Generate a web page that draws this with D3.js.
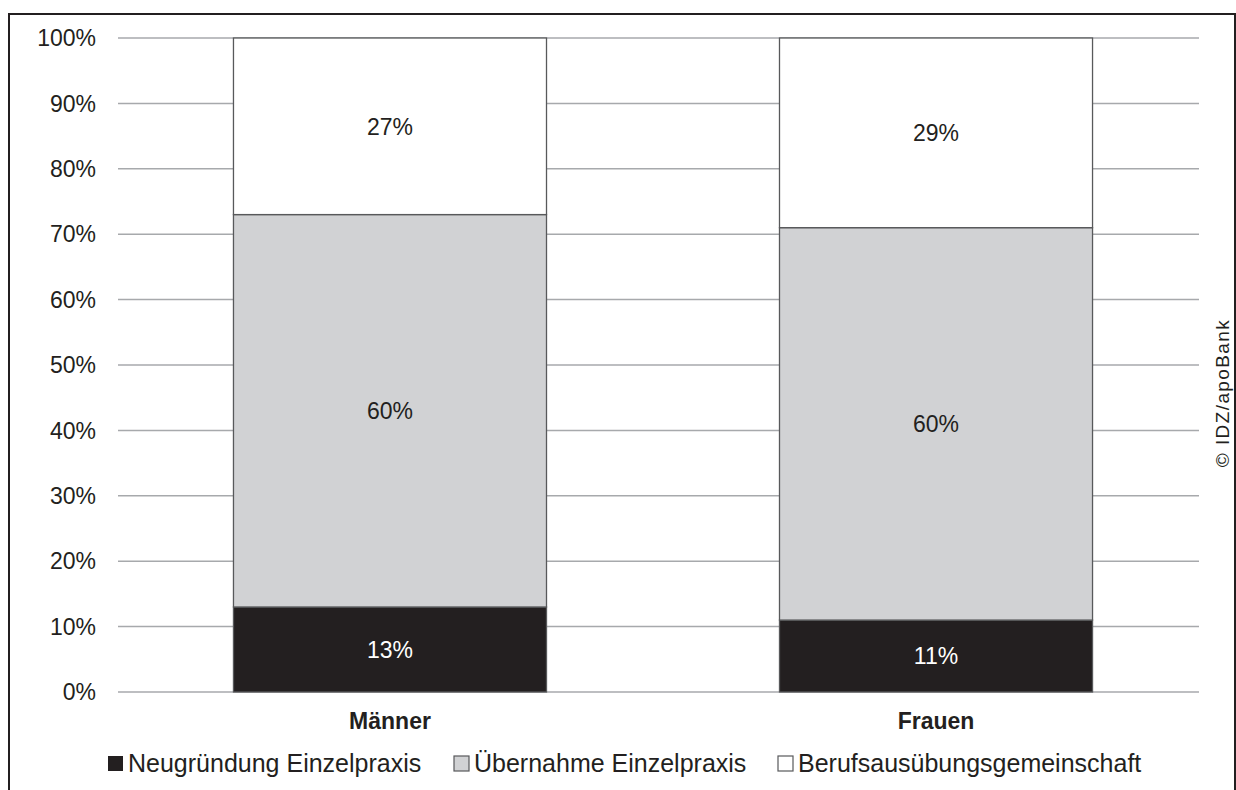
<!DOCTYPE html>
<html><head><meta charset="utf-8">
<script src="https://cdn.jsdelivr.net/npm/d3@7"></script>
<style>body{margin:0;background:#fff}svg{display:block;font-family:"Liberation Sans",Arial,sans-serif}</style>
</head><body>
<svg id="c" width="1236" height="790"></svg>
<script>
const categories = ["Männer", "Frauen"];
const seriesNames = ["Neugründung Einzelpraxis", "Übernahme Einzelpraxis", "Berufsausübungsgemeinschaft"];
const neugruendung = [13, 11];
const uebernahme = [60, 60];
const bag = [27, 29];
const yTicks = [0, 10, 20, 30, 40, 50, 60, 70, 80, 90, 100];
const colors = ["#231f20", "#d1d2d4", "#ffffff"];
const labelColors = ["#ffffff", "#231f20", "#231f20"];

const svg = d3.select("#c");
// frame
svg.append("path").attr("d", "M9,790 V14 H1235 V790").attr("fill", "none").attr("stroke", "#231f20").attr("stroke-width", 2);

const y = d3.scaleLinear().domain([0, 100]).range([692, 38]);
const x = d3.scaleBand().domain(categories).range([117, 1209]).paddingInner(0.4267).paddingOuter(0.2133);

// gridlines
svg.append("g").selectAll("line").data(yTicks).join("line")
  .attr("x1", 118).attr("x2", 1199).attr("y1", d => y(d)).attr("y2", d => y(d))
  .attr("stroke", "#a7a9ac").attr("stroke-width", 1.5);

// y axis labels
svg.append("g").selectAll("text").data(yTicks).join("text")
  .attr("x", 96).attr("y", d => y(d)).attr("dy", "0.36em").attr("text-anchor", "end")
  .attr("font-size", 23).attr("fill", "#231f20").text(d => d + "%");

const data = categories.map((c, i) => ({cat: c, s0: neugruendung[i], s1: uebernahme[i], s2: bag[i]}));
const stack = d3.stack().keys(["s0", "s1", "s2"])(data);

stack.forEach((layer, li) => {
  const g = svg.append("g");
  g.selectAll("rect").data(layer).join("rect")
    .attr("x", d => x(d.data.cat)).attr("width", x.bandwidth())
    .attr("y", d => y(d[1])).attr("height", d => y(d[0]) - y(d[1]))
    .attr("fill", colors[li]).attr("stroke", "#58595b").attr("stroke-width", 1.3);
  g.selectAll("text").data(layer).join("text")
    .attr("x", d => x(d.data.cat) + x.bandwidth() / 2)
    .attr("y", d => (y(d[0]) + y(d[1])) / 2).attr("dy", "0.36em")
    .attr("text-anchor", "middle").attr("font-size", 23).attr("fill", labelColors[li])
    .text(d => (d[1] - d[0]) + "%");
});

// category labels
svg.append("g").selectAll("text").data(categories).join("text")
  .attr("x", d => x(d) + x.bandwidth() / 2).attr("y", 729)
  .attr("text-anchor", "middle").attr("font-size", 23).attr("font-weight", "bold").attr("fill", "#231f20")
  .text(d => d);

// legend
const legendX = [108, 454, 778];
const lg = svg.append("g");
seriesNames.forEach((n, i) => {
  lg.append("rect").attr("x", legendX[i]).attr("y", 756).attr("width", 15).attr("height", 15)
    .attr("fill", colors[i]).attr("stroke", i === 0 ? "none" : "#58595b").attr("stroke-width", 1.2);
  lg.append("text").attr("x", legendX[i] + 20).attr("y", 772)
    .attr("font-size", 25).attr("fill", "#231f20").text(n);
});

// copyright
svg.append("text").attr("transform", "translate(1229,393) rotate(-90)")
  .attr("text-anchor", "middle").attr("font-size", 19).attr("letter-spacing", 1.4).attr("fill", "#231f20").text("© IDZ/apoBank");
</script>
</body></html>
